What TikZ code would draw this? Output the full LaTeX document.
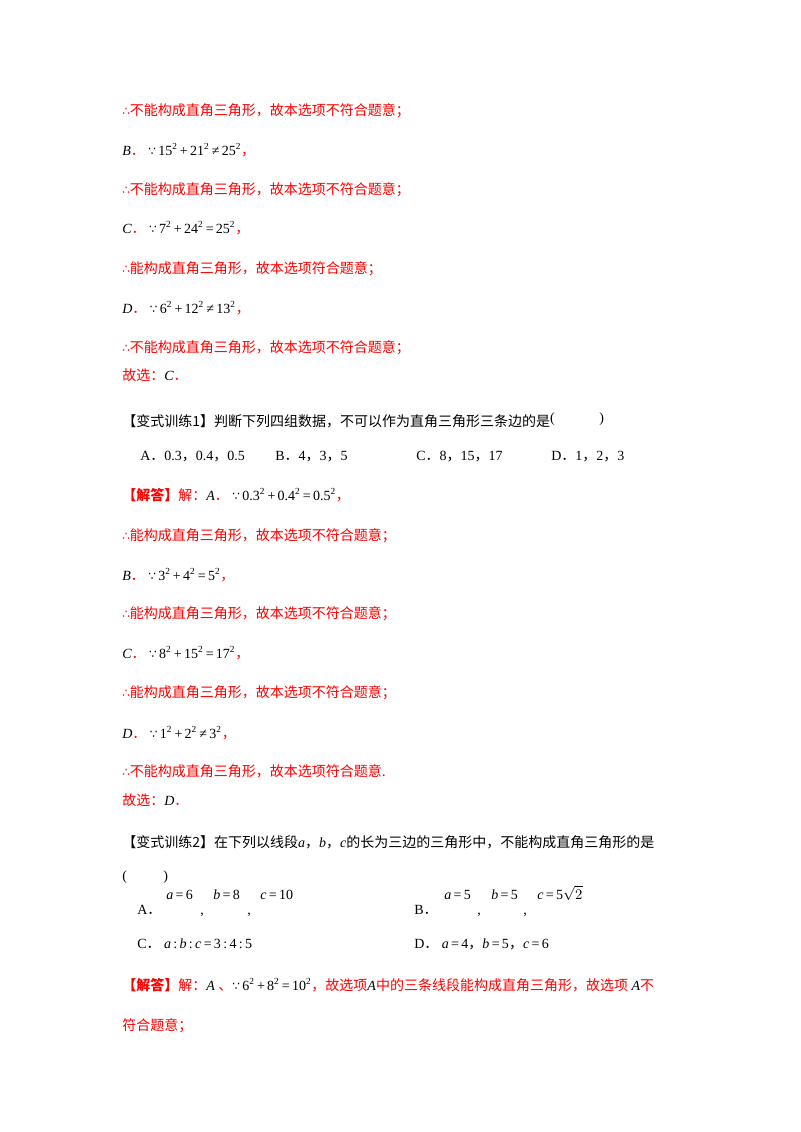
\documentclass[tikz,border=0pt]{standalone}
\usepackage{fontspec}
\setmainfont{Liberation Serif}
\newfontfamily\cjk{Noto Sans CJK SC}
\newfontfamily\dvs{DejaVu Sans}
\definecolor{rd}{HTML}{FF0000}
\newcommand{\Rz}[1]{{\color{rd}\cjk #1}}
\newcommand{\Bz}[1]{{\cjk #1}}
\newcommand{\bec}{{\dvs\small ∵}}
\newcommand{\thf}{{\dvs\small ∴}}
\newcommand{\sq}[1]{#1\textsuperscript{\scriptsize 2}}
\newcommand{\ii}[1]{\textit{#1}}
\newcommand{\eqs}{\,=\,}
\newcommand{\nes}{\,≠\,}
\newcommand{\pls}{\,+\,}
\begin{document}
\begin{tikzpicture}[x=0.75pt,y=-0.75pt,every node/.style={anchor=base west,inner sep=0pt,font=\fontsize{10.5pt}{12pt}\selectfont}]
\useasboundingbox[fill=white] (0,0) rectangle (800,1132);
\node (l1) at (122,115) {\Rz{\thf 不能构成直角三角形，故本选项不符合题意；}};
\node (l2) at (122,155) {\ii{B}\Rz{．}\ \bec\,\sq{15}\pls\sq{21}\nes\sq{25}\Rz{，}};
\node (l3) at (122,194) {\Rz{\thf 不能构成直角三角形，故本选项不符合题意；}};
\node (l4) at (122,233) {\ii{C}\Rz{．}\ \bec\,\sq{7}\pls\sq{24}\eqs\sq{25}\Rz{，}};
\node (l5) at (122,273) {\Rz{\thf 能构成直角三角形，故本选项符合题意；}};
\node (l6) at (122,313) {\ii{D}\Rz{．}\ \bec\,\sq{6}\pls\sq{12}\nes\sq{13}\Rz{，}};
\node (l7) at (122,352) {\Rz{\thf 不能构成直角三角形，故本选项不符合题意；}};
\node (l8) at (122,380) {\Rz{故选：}\ii{C}\Rz{．}};
\node (l9) at (122,426) {\Bz{【变式训练1】判断下列四组数据，不可以作为直角三角形三条边的是}\raisebox{3pt}{(}\hspace{3.2em}\raisebox{3pt}{)}};
\node (oa) at (140,460) {A\Bz{．}0.3\Bz{，}0.4\Bz{，}0.5};
\node (ob) at (275,460) {B\Bz{．}4\Bz{，}3\Bz{，}5};
\node (oc) at (416,460) {C\Bz{．}8\Bz{，}15\Bz{，}17};
\node (od) at (551,460) {D\Bz{．}1\Bz{，}2\Bz{，}3};
\node (l10) at (122,500) {\Rz{\textbf{【解答】}解：}\ii{A}\Rz{．}\ \bec\,0.\sq{3}\pls0.\sq{4}\eqs0.\sq{5}\Rz{，}};
\node (l11) at (122,540) {\Rz{\thf 能构成直角三角形，故本选项不符合题意；}};
\node (l12) at (122,580) {\ii{B}\Rz{．}\ \bec\,\sq{3}\pls\sq{4}\eqs\sq{5}\Rz{，}};
\node (l13) at (122,618) {\Rz{\thf 能构成直角三角形，故本选项不符合题意；}};
\node (l14) at (122,658) {\ii{C}\Rz{．}\ \bec\,\sq{8}\pls\sq{15}\eqs\sq{17}\Rz{，}};
\node (l15) at (122,697) {\Rz{\thf 能构成直角三角形，故本选项不符合题意；}};
\node (l16) at (122,738) {\ii{D}\Rz{．}\ \bec\,\sq{1}\pls\sq{2}\nes\sq{3}\Rz{，}};
\node (l17) at (122,776) {\Rz{\thf 不能构成直角三角形，故本选项符合题意.}};
\node (l18) at (122,805) {\Rz{故选：}\ii{D}\Rz{．}};
\node (l19) at (122,847) {\Bz{【变式训练2】在下列以线段}\ii{a}\Bz{，}\ii{b}\Bz{，}\ii{c}\Bz{的长为三边的三角形中，不能构成直角三角形的是}};
\node (l20) at (122,880) {(\hspace{2.6em})};
\node (a1) at (137,914) {A\Bz{．}};
\node (a2) at (166,899) {\ii{a}\eqs6};
\node (a3) at (200,914) {,};
\node (a4) at (213,899) {\ii{b}\eqs8};
\node (a5) at (247,914) {,};
\node (a6) at (260,899) {\ii{c}\eqs10};
\node (b1) at (414,914) {B\Bz{．}};
\node (b2) at (444,899) {\ii{a}\eqs5};
\node (b3) at (477,914) {,};
\node (b4) at (491,899) {\ii{b}\eqs5};
\node (b5) at (523,914) {,};
\node (b6) at (537,899) {\ii{c}\eqs5$\sqrt{2}$};
\node (c1) at (137,948) {C\Bz{．}\ \ii{a}\,:\,\ii{b}\,:\,\ii{c}\eqs3\,:\,4\,:\,5};
\node (d1) at (414,948) {D\Bz{．}\ \ii{a}\eqs4\Bz{，}\ii{b}\eqs5\Bz{，}\ii{c}\eqs6};
\node (l21) at (122,990) {\Rz{\textbf{【解答】}解：}\ii{A}\ \Rz{、}\bec\,\sq{6}\pls\sq{8}\eqs\sq{10}\Rz{，故选项}\ii{A}\Rz{中的三条线段能构成直角三角形，故选项}\ \ii{A}\Rz{不}};
\node (l22) at (122,1030) {\Rz{符合题意；}};
\end{tikzpicture}
\end{document}
